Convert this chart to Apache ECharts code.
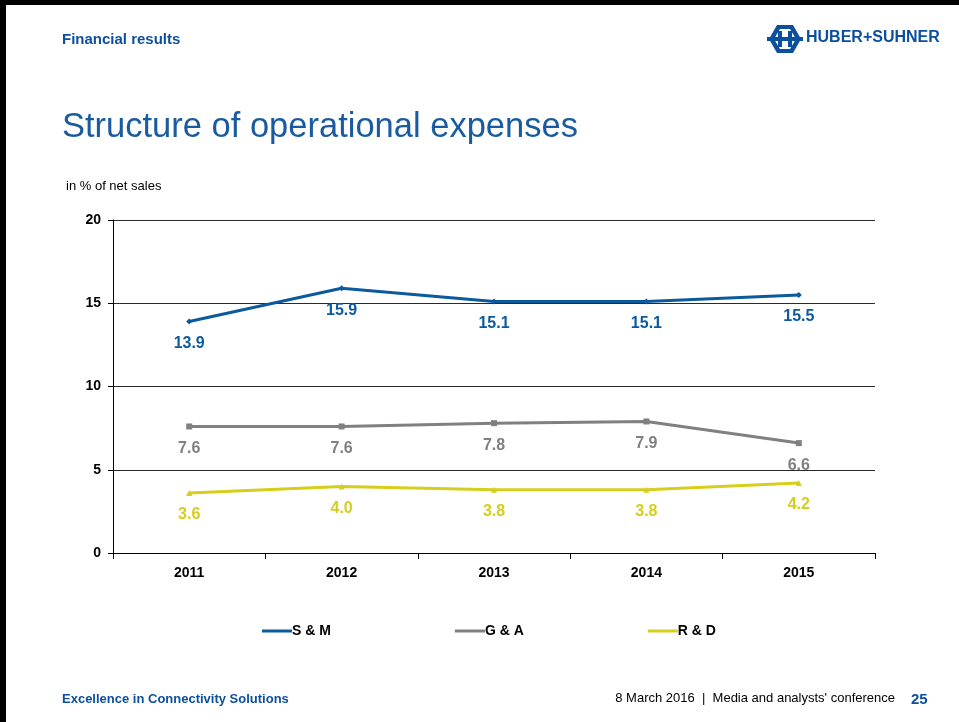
<!DOCTYPE html>
<html>
<head>
<meta charset="utf-8">
<script src="https://cdn.jsdelivr.net/npm/echarts@6/dist/echarts.min.js"></script>
<style>
  html, body { margin: 0; padding: 0; background: #fff; }
  #chart { width: 959px; height: 722px; }
</style>
</head>
<body>
<div id="chart"></div>
<script>
// Operating expenses in % of net sales, by year
const years = ['2011', '2012', '2013', '2014', '2015'];
const salesMarketing = [13.9, 15.9, 15.1, 15.1, 15.5];
const generalAdmin = [7.6, 7.6, 7.8, 7.9, 6.6];
const researchDev = [3.6, 4.0, 3.8, 3.8, 4.2];
const yTicks = [0, 5, 10, 15, 20];

const BLUE = '#0B5A9E';
const GREY = '#808080';
const YELLOW = '#D6CE1C';
const LOGO = '#0B4F9E';
const SANS = '"Liberation Sans", Arial, sans-serif';

function lineSeries(name, data, color, symbol) {
  return {
    name: name,
    type: 'line',
    data: data,
    symbol: symbol,
    symbolSize: 6,
    lineStyle: { color: color, width: 3 },
    itemStyle: { color: color },
    label: {
      show: true,
      position: 'bottom',
      distance: 11,
      color: color,
      fontFamily: SANS,
      fontWeight: 'bold',
      fontSize: 16,
      formatter: p => p.value.toFixed(1)
    },
    emphasis: { disabled: true },
    z: 3
  };
}

const chart = echarts.init(document.getElementById('chart'), null, { renderer: 'canvas' });

chart.setOption({
  backgroundColor: '#fff',
  animation: false,
  grid: { left: 113, right: 84, top: 220, bottom: 169, containLabel: false },
  xAxis: {
    type: 'category',
    data: years,
    boundaryGap: true,
    axisLine: { lineStyle: { color: '#000', width: 1 } },
    axisTick: { show: true, length: 6, lineStyle: { color: '#000' } },
    axisLabel: { color: '#000', fontFamily: SANS, fontWeight: 'bold', fontSize: 14, margin: 13 },
    splitLine: { show: false }
  },
  yAxis: {
    type: 'value',
    min: yTicks[0],
    max: yTicks[yTicks.length - 1],
    interval: 5,
    axisLine: { show: true, lineStyle: { color: '#000', width: 1 } },
    axisTick: { show: true, length: 5, lineStyle: { color: '#000' } },
    axisLabel: { color: '#000', fontFamily: SANS, fontWeight: 'bold', fontSize: 14, margin: 12 },
    splitLine: { show: true, lineStyle: { color: '#2a2a2a', width: 1 } }
  },
  legend: {
    left: 262,
    top: 624,
    padding: 0,
    itemWidth: 30,
    itemHeight: 12,
    itemGap: 124,
    icon: 'path://M0,4.5 L30,4.5 L30,7.5 L0,7.5 Z',
    textStyle: { color: '#000', fontFamily: SANS, fontWeight: 'bold', fontSize: 14, padding: [0, 0, 0, -5] },
    data: ['S & M', 'G & A', 'R & D'],
    selectedMode: false
  },
  series: [
    lineSeries('S & M', salesMarketing, BLUE, 'diamond'),
    lineSeries('G & A', generalAdmin, GREY, 'rect'),
    lineSeries('R & D', researchDev, YELLOW, 'triangle')
  ],
  graphic: [
    // slide frame (top and left edges)
    { type: 'rect', shape: { x: 0, y: 0, width: 959, height: 5 }, style: { fill: '#000' }, silent: true },
    { type: 'rect', shape: { x: 0, y: 0, width: 6, height: 722 }, style: { fill: '#000' }, silent: true },
    // header
    { type: 'text', left: 62, top: 32, style: { text: 'Financial results', fill: LOGO, font: 'bold 15px ' + SANS } },
    // company logo: hexagon emblem with H and wordmark
    {
      type: 'polygon',
      shape: { points: [[769, 39], [777, 25], [793, 25], [801, 39], [793, 53], [777, 53]] },
      style: { fill: LOGO }, silent: true
    },
    {
      type: 'polygon',
      shape: { points: [[774, 39], [780, 29], [790, 29], [796, 39], [790, 49], [780, 49]] },
      style: { fill: '#fff' }, silent: true
    },
    { type: 'rect', shape: { x: 778, y: 31, width: 4, height: 16 }, style: { fill: LOGO }, silent: true },
    { type: 'rect', shape: { x: 788, y: 31, width: 4, height: 16 }, style: { fill: LOGO }, silent: true },
    { type: 'rect', shape: { x: 767, y: 37, width: 36, height: 4 }, style: { fill: LOGO }, silent: true },
    { type: 'text', left: 806, top: 30, style: { text: 'HUBER+SUHNER', fill: LOGO, font: 'bold 16px ' + SANS } },
    // title
    { type: 'text', left: 62, top: 110, style: { text: 'Structure of operational expenses', fill: '#1A5BA0', font: '34.5px ' + SANS } },
    // unit
    { type: 'text', left: 66, top: 180, style: { text: 'in % of net sales', fill: '#000', font: '13px ' + SANS } },
    // footer
    { type: 'text', left: 62, top: 693, style: { text: 'Excellence in Connectivity Solutions', fill: LOGO, font: 'bold 13px ' + SANS } },
    { type: 'text', x: 895, y: 692, style: { text: "8 March 2016  |  Media and analysts' conference", fill: '#000', font: '13px ' + SANS, align: 'right' } },
    { type: 'text', left: 911, top: 692, style: { text: '25', fill: LOGO, font: 'bold 15px ' + SANS } }
  ]
});
</script>
</body>
</html>
